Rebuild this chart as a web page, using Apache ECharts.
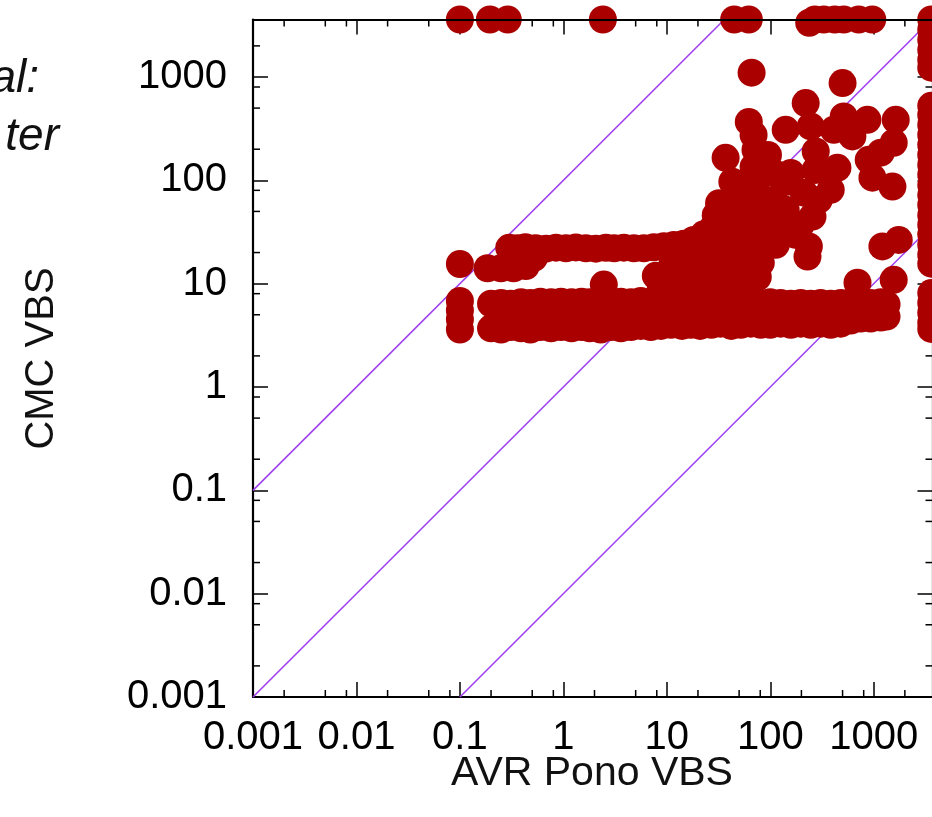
<!DOCTYPE html>
<html>
<head>
<meta charset="utf-8">
<title>CMC VBS / AVR Pono VBS</title>
<script src="https://cdn.jsdelivr.net/npm/echarts@6/dist/echarts.min.js"></script>
<style>
html, body { margin: 0; padding: 0; background: #fff; }
#chart { width: 932px; height: 817px; }
</style>
</head>
<body>
<div id="chart"></div>
<script>
// log axes (the right border sits just outside the picture)
var axisMin = 0.001;
var xMax = 3700;
var yMax = 3600;
var tickValues = [0.001, 0.01, 0.1, 1, 10, 100, 1000];
var tickLabels = ['0.001', '0.01', '0.1', '1', '10', '100', '1000'];
var minorSteps = [2, 5, 8];

// reference diagonals: y = 100x, y = x, y = x/100
var lineHigh = [[0.001, 0.1], [36, 3600]];
var lineEqual = [[0.001, 0.001], [3600, 3600]];
var lineLow = [[0.1, 0.001], [3700, 37]];

// points [AVR Pono VBS, CMC VBS]
// timeouts of CMC (top row)
var timeoutTop = [[0.1,3600],[0.195,3600],[0.29,3600],[2.41,3600],[44.8,3600],[62,3600],[238,3350],[270,3600],
	[329,3600],[420,3600],[513,3600],[716,3600],[968,3600]];
// timeouts of AVR (right column)
var timeoutRight = [[3600,3600],[3600,2860],[3600,2290],[3600,1830],[3600,1470],[3600,1230],
	[3600,526],[3600,431],[3600,344],[3600,276],[3600,221],[3600,177],[3600,141],[3600,113],[3600,90],
	[3600,72],[3600,58],[3600,46],[3600,37],[3600,30],[3600,23.8],[3600,19],[3600,15.6],
	[3600,8.1],[3600,6.5],[3600,5.2],[3600,4.2],[3600,3.65]];
var leftColumn = [[0.1,15.5],[0.1,6.8],[0.1,5.5],[0.1,4.5],[0.1,3.6]];
var secondRow = [[0.185,14.1],[0.249,14.1],[0.33,14.1],[0.434,14.8],[0.52,17.8]];
var upperBand = [[0.3,22.2],[0.36,22],[0.43,22.5],[0.54,22],[0.68,21.8],[0.85,22.3],[1.06,22],[1.32,22.4],
	[1.65,22],[2.06,21.8],[2.58,22.2],[3.1,22],[3.84,22.3],[4.8,22],[6.0,22],[7.5,22.5],[9.35,23],
	[11.7,23.7],[14.6,24.3],[18.2,26.5],[22.8,30],[28.5,36],[29.7,46]];
var lowerTop = [[0.2,6.4],[0.25,6.5],[0.31,6.4],[0.39,6.6],[0.48,6.5],[0.6,6.7],[0.76,6.6],[0.95,6.7],
	[1.2,6.6],[1.5,6.7],[1.8,6.6],[2.3,6.8],[2.9,6.6],[3.6,6.7],[4.5,6.6],[5.6,6.8],[7,6.7],[8.8,6.6],
	[11,6.8],[14,6.7],[17,6.6],[21,6.8],[27,6.7],[33,6.6],[42,6.8],[52,6.7],[65,6.6],[81,6.5],[100,6.6],
	[126,6.5],[158,6.4],[197,6.5],[246,6.4],[307,6.5],[384,6.4],[480,6.5],[600,6.6],[750,6.4],[935,6.5],
	[1170,6.6],[1330,6.3]];
var lowerMid = [[0.25,5.0],[0.39,5.1],[0.6,4.9],[0.95,5.0],[1.5,5.1],[2.3,4.9],[3.6,5.0],[5.6,5.2],
	[8.8,5.0],[14,5.1],[21,5.0],[33,5.2],[52,5.0],[81,5.1],[126,5.0],[197,5.1],[307,5.0],[480,5.2],
	[750,5.0],[1170,5.2]];
var lowerBottom = [[0.2,3.7],[0.25,3.6],[0.31,3.8],[0.39,3.7],[0.48,3.6],[0.6,3.8],[0.76,3.7],[0.95,3.8],
	[1.2,3.7],[1.5,3.8],[1.8,3.7],[2.3,3.6],[2.9,3.8],[3.6,3.7],[4.5,3.8],[5.6,3.9],[7,3.8],[8.8,3.9],
	[11,4.0],[14,3.9],[17,4.0],[21,3.9],[27,4.0],[33,4.1],[42,3.9],[52,4.0],[65,4.1],[81,4.0],[100,4.0],
	[126,4.1],[158,4.0],[197,4.1],[246,4.0],[307,4.1],[384,4.0],[480,4.1],[600,4.4],[750,4.6],[935,4.6],
	[1170,4.7],[1330,4.8]];
var coreBlob = [[72.4,57.9],[141,51.8],[37.2,46.4],[51.9,46.4],[141,41.5],[197,37.1],
	[33.2,33.2],[46.4,31.7],[90.5,31.7],[126,31.7],[176,29.7],
	[21.3,22.2],[29.7,23.8],[41.5,23.8],[58,23.8],[80.9,23.8],[113,23.8],
	[11.4,16.2],[13.7,17],[19.1,17],[26.6,17],[37.2,17],[51.9,17],[72.4,17],
	[7.83,11.9],[10.9,12.2],[15.3,12.2],[21.3,12.2],[29.7,12.2],[41.5,12.2],[58,12.2],[75.7,11.6],
	[8.75,9.1],[12.2,9.1],[17.1,9.1],[23.8,9.1],[33.2,9.1],[46.4,9.1],[58,9.1]];
var scattered = [[66,1100],[500,873],[220,559],[62,367],[513,415],[869,385],[1632,385],[246,332],
	[141,308],[411,308],[69,275],[622,266],[1560,231],[275,190],[1170,185],[95,176],[37,165],[895,158],
	[72,197],[69,135],[446,132],[275,126],[108,118],[158,118],[972,106],[43,97],[148,97],[72,90],
	[1517,87],[384,81],[211,76],[108,65],[52,65],[294,64.6],[32,60],[256,44.6],[86,44],[61,35],
	[95,24.8],[236,22.9],[1213,22.9],[1745,26.5],[229,18.3],[81,15.9],[697,10.2],[1560,10.9],[2.46,9.8]];

var allPoints = [].concat(timeoutTop, timeoutRight, leftColumn, secondRow, upperBand,
	lowerTop, lowerMid, lowerBottom, coreBlob, scattered);

// minor ticks at 2, 5, 8 of each decade
function minorList(max){
	var list = [];
	for (var i = 0; i < tickValues.length; i++) {
		for (var j = 0; j < minorSteps.length; j++) {
			var v = tickValues[i] * minorSteps[j];
			if (v < max) list.push(v);
		}
	}
	return list;
}
var xMinor = minorList(xMax);
var yMinor = minorList(yMax);

var fontName = '"Liberation Sans", Arial, Helvetica, sans-serif';
var tickStyle = { color: '#000', width: 1.5 };

function tickFormatter(v){
	for (var i = 0; i < tickValues.length; i++) {
		if (Math.abs(v / tickValues[i] - 1) < 1e-6) return tickLabels[i];
	}
	return '';
}

function logAxis(position, max, showLine, showTicks, showLabels, z){
	return {
		type: 'log',
		logBase: 10,
		min: axisMin,
		max: max,
		position: position,
		z: z,
		axisLine: { show: showLine, onZero: false, lineStyle: { color: '#000', width: 2.2 } },
		axisTick: { show: showTicks, inside: true, length: 15, lineStyle: tickStyle },
		axisLabel: {
			show: showLabels,
			formatter: tickFormatter,
			fontSize: 40,
			fontFamily: fontName,
			color: '#000',
			margin: position === 'bottom' ? 21 : 26
		},
		minorTick: { show: false },
		splitLine: { show: false }
	};
}

function renderMinorX(params, api){
	var v = api.value(0);
	var b = api.coord([v, axisMin]);
	var t = api.coord([v, yMax]);
	return { type: 'group', children: [
		{ type: 'line', shape: { x1: b[0], y1: b[1], x2: b[0], y2: b[1] - 7 }, style: { stroke: '#000', lineWidth: 1.5 } },
		{ type: 'line', shape: { x1: t[0], y1: t[1], x2: t[0], y2: t[1] + 7 }, style: { stroke: '#000', lineWidth: 1.5 } }
	]};
}
function renderMinorY(params, api){
	var v = api.value(1);
	var l = api.coord([axisMin, v]);
	var r = api.coord([xMax, v]);
	return { type: 'group', children: [
		{ type: 'line', shape: { x1: l[0], y1: l[1], x2: l[0] + 7, y2: l[1] }, style: { stroke: '#000', lineWidth: 1.5 } },
		{ type: 'line', shape: { x1: r[0], y1: r[1], x2: r[0] - 7, y2: r[1] }, style: { stroke: '#000', lineWidth: 1.5 } }
	]};
}

function diagLine(data){
	return {
		type: 'line',
		data: data,
		symbol: 'none',
		silent: true,
		z: 1,
		lineStyle: { color: '#a040f0', width: 1.6 }
	};
}

var chart = echarts.init(document.getElementById('chart'));
var option = {
	animation: false,
	grid: { left: 253, top: 19.5, width: 679.5, height: 677.5, outerBoundsMode: 'none' },
	xAxis: [
		logAxis('bottom', xMax, true, true, true, 0),
		logAxis('top', xMax, true, false, false, 5),
		logAxis('top', xMax, false, true, false, 0)
	],
	yAxis: [
		logAxis('left', yMax, true, true, true, 0),
		logAxis('right', yMax, true, true, false, 0)
	],
	graphic: [
		{ type: 'text', x: 39, y: 79, style: { text: 'al:', font: 'italic 46px ' + fontName, fill: '#111', textAlign: 'right', textVerticalAlign: 'middle' } },
		{ type: 'text', x: 59, y: 137, style: { text: 'ter', font: 'italic 46px ' + fontName, fill: '#111', textAlign: 'right', textVerticalAlign: 'middle' } },
		{ type: 'text', x: 41.5, y: 358.5, rotation: Math.PI / 2, style: { text: 'CMC VBS', font: '40px ' + fontName, fill: '#111', textAlign: 'center', textVerticalAlign: 'middle' } },
		{ type: 'text', x: 592, y: 774, style: { text: 'AVR Pono VBS', font: '41px ' + fontName, fill: '#111', textAlign: 'center', textVerticalAlign: 'middle' } }
	],
	series: [
		diagLine(lineHigh),
		diagLine(lineEqual),
		diagLine(lineLow),
		{
			type: 'custom',
			silent: true,
			z: 1,
			clip: false,
			renderItem: renderMinorX,
			data: xMinor.map(function(v){ return [v, axisMin]; })
		},
		{
			type: 'custom',
			silent: true,
			z: 1,
			clip: false,
			renderItem: renderMinorY,
			data: yMinor.map(function(v){ return [axisMin, v]; })
		},
		{
			type: 'scatter',
			data: allPoints,
			symbol: 'circle',
			symbolSize: 28,
			silent: true,
			clip: false,
			z: 2,
			itemStyle: { color: '#aa0000', opacity: 1 }
		}
	]
};
chart.setOption(option);
</script>
</body>
</html>
